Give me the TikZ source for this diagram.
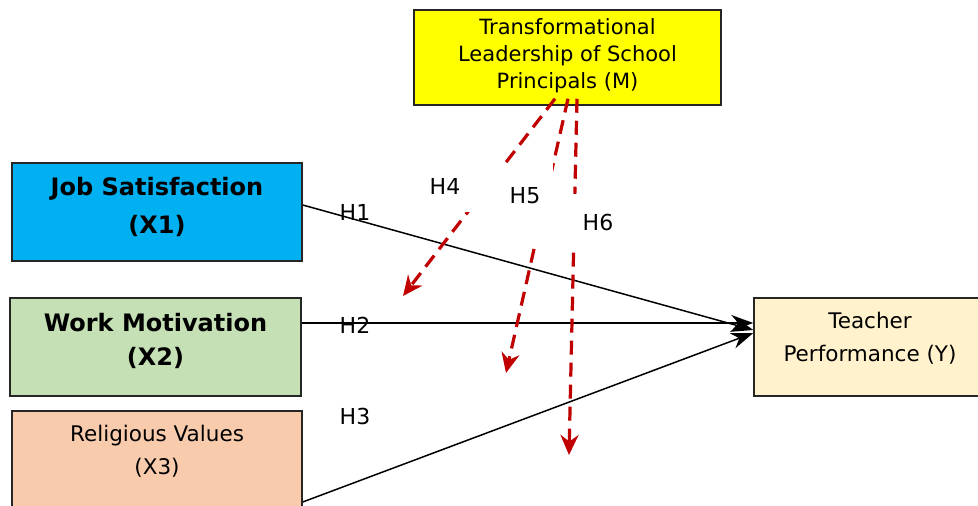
\documentclass[tikz,border=0pt]{standalone}
\usepackage{fontspec}
\setmainfont{DejaVu Sans}
\usetikzlibrary{arrows.meta}
\definecolor{leadyellow}{HTML}{FFFF00}
\definecolor{jobblue}{HTML}{00B0F0}
\definecolor{motgreen}{HTML}{C5E0B4}
\definecolor{relpeach}{HTML}{F8CBAD}
\definecolor{perfcream}{HTML}{FFF2CC}
\definecolor{modred}{HTML}{C00000}

\begin{document}
\begin{tikzpicture}[x=1pt, y=-1pt,
  box/.style={rectangle, draw=black!85, line width=1.5pt, align=center, inner sep=0pt},
  hyp/.style={font=\fontsize{22}{26}\selectfont, inner sep=0pt},
  direct/.style={line width=1.5pt, -{Stealth[length=22pt, width=16pt]}},
  moder/.style={draw=modred, line width=3.2pt, dash pattern=on 14pt off 8pt,
    -{Stealth[length=20pt, width=18pt]}}]
\useasboundingbox (0,0) rectangle (978,506);

\node[box, fill=leadyellow, minimum width=307pt, minimum height=95pt, font=\fontsize{21}{27}\selectfont, text depth=8pt](m) at (567.5,57.5) {Transformational\\Leadership of School\\Principals (M)};
\node[box, fill=jobblue, minimum width=290pt, minimum height=98pt, font=\bfseries\fontsize{24}{38}\selectfont, text depth=13.5pt](x1) at (157,212) {Job Satisfaction\\(X1)};
\node[box, fill=motgreen, minimum width=291pt, minimum height=98pt, font=\bfseries\fontsize{24}{34}\selectfont, text depth=15.5pt](x2) at (155.5,347) {Work Motivation\\(X2)};
\node[box, fill=relpeach, minimum width=290pt, minimum height=109pt, font=\fontsize{21.5}{33}\selectfont, text depth=31pt](x3) at (157,465.5) {Religious Values\\(X3)};
\node[box, fill=perfcream, minimum width=232pt, minimum height=98pt, font=\fontsize{21.5}{33}\selectfont, text depth=20pt](y) at (870,347) {Teacher\\Performance (Y)};

\draw[direct] ([yshift=7pt]x1.east) to ([yshift=17pt]y.west);
\draw[direct] ([yshift=24pt]x2.east) to ([yshift=24pt]y.west);
\draw[direct] ([yshift=-36.5pt]x3.east) to ([yshift=14pt]y.west);

\node[hyp](h1) at (355,212) {H1};
\node[hyp](h2) at (355,325) {H2};
\node[hyp](h3) at (355,416) {H3};

\coordinate (h4end) at (403,296);
\coordinate (h5end) at (506,373);
\coordinate (h6end) at (569,455);

\draw[moder] ([xshift=9.5pt, yshift=7pt]m.south) to (h6end);
\node[hyp, fill=white, minimum width=52pt, minimum height=56pt](h6) at (598,222) {H6};
\draw[moder] ([xshift=0.5pt, yshift=7pt]m.south) to (h5end);
\node[hyp, fill=white, minimum width=56pt, minimum height=100pt](h5) at (525,196) {H5};
\draw[moder] ([xshift=-12.5pt, yshift=7pt]m.south) to (h4end);
\node[hyp, fill=white, minimum width=120pt, minimum height=52pt](h4) at (445,186) {H4};

\end{tikzpicture}
\end{document}
